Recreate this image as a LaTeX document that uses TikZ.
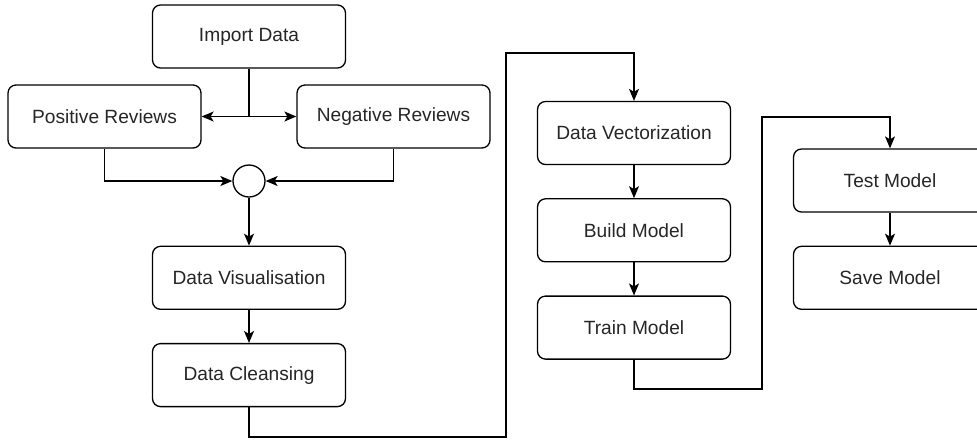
\documentclass[tikz,border=0pt]{standalone}
\usepackage{fontspec}
\setmainfont{Liberation Sans}
\usepackage{tikz}
\usetikzlibrary{positioning,arrows.meta}

\begin{document}
\begin{tikzpicture}[x=0.02cm, y=-0.02cm, node distance=0.66cm]

    % Define styles
    \tikzstyle{stage} = [
        rectangle, rounded corners=0.16cm,
        minimum width=3.86cm, minimum height=1.26cm,
        text centered, draw=black, line width=0.75pt,
        font=\fontsize{10.9}{13}\selectfont, text=black!85
    ]
    \tikzstyle{merge} = [circle, draw=black, line width=0.75pt, minimum size=0.64cm, inner sep=0pt]
    \tikzstyle{arrow} = [line width=0.75pt, -{Stealth[length=0.24cm, width=0.2cm, inset=0.06cm]}]

    \useasboundingbox (0,0) rectangle (977,441);

    % Nodes
    \node[stage] (import) at (249,36.5) {Import Data};
    \node[stage] (positive) at (104.5,116.5) {Positive Reviews};
    \node[stage] (negative) at (393.5,116.5) {Negative Reviews};
    \node[merge] (join) at (249,181) {};
    \node[stage, below=0.96cm of join] (visual) {Data Visualisation};
    \node[stage, below=of visual] (cleanse) {Data Cleansing};
    \node[stage] (vector) at (634,133) {Data Vectorization};
    \node[stage, below=of vector] (build) {Build Model};
    \node[stage, below=of build] (train) {Train Model};
    \node[stage] (test) at (890,180.5) {Test Model};
    \node[stage, below=of test] (save) {Save Model};

    % Bends
    \coordinate (bendA) at (506,437);
    \coordinate (bendB) at (506,53);
    \coordinate (bendC) at (762,389);
    \coordinate (bendD) at (762,117);

    % Arrows
    \draw[arrow] (import.south) |- (positive.east);
    \draw[arrow] (import.south) |- (negative.west);
    \draw[arrow] (positive.south) |- (join.west);
    \draw[arrow] (negative.south) |- (join.east);
    \draw[arrow] (join) -- (visual);
    \draw[arrow] (visual) -- (cleanse);
    \draw[arrow] (cleanse.south) |- (bendA) -- (bendB) -| (vector.north);
    \draw[arrow] (vector) -- (build);
    \draw[arrow] (build) -- (train);
    \draw[arrow] (train.south) |- (bendC) -- (bendD) -| (test.north);
    \draw[arrow] (test) -- (save);

\end{tikzpicture}
\end{document}
